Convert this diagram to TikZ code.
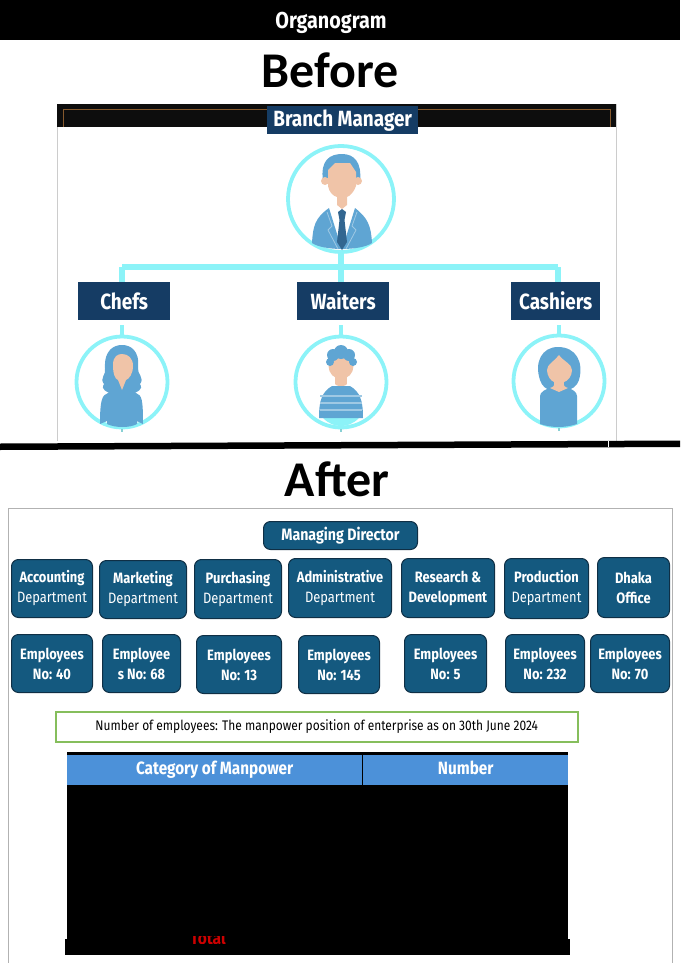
\documentclass[tikz,border=0pt]{standalone}
\usepackage{fontspec}
\setmainfont[FakeStretch=0.86]{Fira Sans}
\newfontfamily\headfont{Carlito}
\usepackage{xcolor}
\usetikzlibrary{positioning}
\definecolor{navybox}{HTML}{153C64}
\definecolor{tealbox}{HTML}{14597F}
\definecolor{tealedge}{HTML}{0F2F45}
\definecolor{ringcol}{HTML}{8CF3F8}
\definecolor{suit}{HTML}{5FA5D3}
\definecolor{skin}{HTML}{F0C4A8}
\definecolor{headblue}{HTML}{4C91D9}
\definecolor{notegreen}{HTML}{86BE5C}
\tikzset{
	titlebox/.style={fill=navybox,text=white,font=\fontsize{22}{24}\selectfont\bfseries,inner sep=0pt,anchor=north west},
	deptbox/.style={fill=tealbox,draw=tealedge,line width=1pt,rounded corners=7pt,text=white,align=center,inner sep=0pt,anchor=north west,font=\fontsize{15}{20}\selectfont},
	headcell/.style={fill=headblue,text=white,font=\fontsize{17.8}{20}\selectfont\bfseries,minimum height=30pt,inner sep=0pt,anchor=north west,text height=12pt,text depth=3pt},
	bigtitle/.style={font=\headfont\fontsize{50}{52}\selectfont\bfseries},
	ring/.style={circle,draw=ringcol,line width=3.8pt,inner sep=0pt,fill=none},
	busline/.style={draw=ringcol,line width=5.2pt},
	stub/.style={draw=ringcol,line width=4pt},
	tip/.style={draw=ringcol!70!gray,line width=2.5pt},
}
\newcommand{\boxat}[6]{% name, x0, y0, x1, y1, text
	\pgfmathsetmacro{\bw}{#4-#2}\pgfmathsetmacro{\bh}{#5-#3}
	\node[deptbox,minimum width=\bw pt,minimum height=\bh pt] (#1) at (#2,#3) {#6};
}
\begin{document}
\begin{tikzpicture}[x=1pt,y=-1pt]
		\useasboundingbox (0,0) rectangle (680,963);
		% top band and headings
		\fill[black] (0,0) rectangle (680,40);
		\node[text=white,font=\fontsize{23}{25}\selectfont\bfseries] (organogram) at (331,23) {Organogram};
		\node[bigtitle] (before) at (330,70) {Before};
		\node[bigtitle] (after) at (337,479) {After};
		% before panel
		\draw[gray!40,line width=.8pt] (57,104) -- (57,441) (616,104) -- (616,441);
		\fill[black!95] (57,104) rectangle (616,127);
		\draw[brown!70!black,line width=.6pt] (63,127) -- (63,109) -- (610,109) -- (610,127);
		\node[titlebox,minimum width=151pt,minimum height=28pt] (manager) at (267,106) {Branch Manager};
		\node[ring,minimum size=106pt] (managerring) at (341,199) {};
		\node[titlebox,minimum width=92pt,minimum height=38pt] (chefs) at (78,282) {Chefs};
		\node[titlebox,minimum width=92pt,minimum height=38pt] (waiters) at (297,282) {Waiters};
		\node[titlebox,minimum width=89pt,minimum height=38pt] (cashiers) at (511,282) {Cashiers};
		\node[ring,minimum size=91pt] (chefring) at (122,382) {};
		\node[ring,minimum size=91pt] (waiterring) at (341,382) {};
		\node[ring,minimum size=91pt] (cashierring) at (559,381) {};
		\coordinate (busl) at (122,267);
		\coordinate (busm) at (341,267);
		\coordinate (busr) at (558,267);
		\path[busline]
		(managerring) -- (busm)
		(busl) -- (busr)
		(busm) -- (busm |- waiters.north)
		(busl) -- (busl |- chefs.north)
		(busr) -- (busr |- cashiers.north);
		\path[stub]
		(chefs.south -| chefring) ++(0,5) -- (chefring.north)
		(waiters.south -| waiterring) ++(0,5) -- (waiterring.north)
		(cashiers.south -| cashierring) ++(0,5) -- (cashierring.north);
		\path[tip]
		(chefring.south) -- ++(0,3)
		(waiterring.south) -- ++(0,3)
		(cashierring.south) -- ++(0,3);
		% branch manager figure
		\fill[suit] (323,181) .. controls (320,160) and (330,154) .. (342,154) .. controls (354,154) and (362,162) .. (360,181) -- cycle;
		\fill[skin] (325,181) circle (4) (358,181) circle (4);
		\fill[skin] (328,170) -- (335,163) -- (350,163) -- (356,172) -- (356,186) .. controls (354,192) and (350,196) .. (347,197) -- (347,205) -- (342,209) -- (337,205) -- (337,197) .. controls (333,196) and (329,192) .. (328,186) -- cycle;
		\fill[suit] (312,243) .. controls (313,226) and (315,218) .. (329,208) -- (342,250) -- (355,208) .. controls (368,218) and (371,226) .. (372,243) .. controls (360,251) and (324,251) .. (312,243) -- cycle;
		\fill[navybox!60!suit] (338,212) -- (342,209) -- (346,212) -- (344.5,220) -- (347,242) -- (342,250) -- (337,242) -- (339.5,220) -- cycle;
		\draw[white!40!suit,line width=.8pt] (327,212) -- (332,226) -- (328,230) -- (338,249) (357,212) -- (352,226) -- (356,230) -- (346,249);
		% chef figure
		\fill[suit] (104,384) .. controls (99,378) and (107,374) .. (105,368) .. controls (104,350) and (114,345) .. (122,345) .. controls (130,345) and (140,350) .. (138,368) .. controls (137,374) and (145,378) .. (140,384) .. controls (144,390) and (136,392) .. (133,394) -- (111,394) .. controls (108,392) and (100,390) .. (104,384) -- cycle;
		\fill[suit] (108,393) -- (136,393) .. controls (142,395) and (143,400) .. (143,424) -- (137,421) -- (137,424) .. controls (130,428) and (115,428) .. (107,424) -- (107,421) -- (100,424) .. controls (100,400) and (102,395) .. (108,393) -- cycle;
		\fill[skin] (113,365) .. controls (113,356) and (118,354) .. (122,354) .. controls (128,354) and (133,358) .. (133,366) .. controls (133,374) and (129,379) .. (126,380) -- (122,390) -- (118,380) .. controls (115,379) and (113,374) .. (113,365) -- cycle;
		% waiter figure
		\fill[ringcol] (323,418) -- (359,418) .. controls (353,424) and (347,426) .. (341,426) .. controls (335,426) and (329,424) .. (323,418) -- cycle;
		\fill[suit] (319,418) .. controls (319,400) and (322,392) .. (332,386) -- (350,386) .. controls (360,392) and (363,400) .. (363,418) -- cycle;
		\foreach \y in {395,402,409}
		\fill[suit!60!white] (320,\y) rectangle (362,\y+2);
		\fill[skin] (335,372) rectangle (347,384);
		\fill[skin] (341,384) ellipse (6 and 2);
		\fill[skin] (341,366) ellipse (12.5 and 13);
		\fill[suit] (330,362) circle (4) (333,355) circle (6) (341,352) circle (7) (349,355) circle (6) (353,362) circle (4);
		% cashier figure
		\fill[suit] (540,380) .. controls (534,362) and (542,347) .. (558,347) .. controls (576,347) and (584,362) .. (579,380) .. controls (577,386) and (572,390) .. (566,390) -- (552,390) .. controls (546,390) and (542,386) .. (540,380) -- cycle;
		\fill[suit] (540,424) -- (540,396) .. controls (540,392) and (546,389) .. (550,388) -- (568,388) .. controls (572,389) and (577,392) .. (577,396) -- (577,424) .. controls (565,428) and (552,428) .. (540,424) -- cycle;
		\fill[skin] (559,355) .. controls (555,361) and (547,364) .. (547,370) .. controls (547,376) and (551,381) .. (554,382) .. controls (555,386) and (553,387) .. (550,388) -- (559,392) -- (568,388) .. controls (565,387) and (563,386) .. (564,382) .. controls (568,381) and (572,376) .. (572,370) .. controls (572,364) and (563,361) .. (559,355) -- cycle;
		% divider
		\fill[black] (0,443.5) -- (680,440.5) -- (680,447) -- (0,450) -- cycle;
		\draw[white,line width=.5pt] (608,441) -- (608,447);
		% after panel
		\draw[gray!60,line width=.8pt] (8,963) -- (8,508) -- (672.5,508) -- (672.5,963);
		\boxat{director}{263}{521}{417}{549}{\fontsize{16.5}{20}\selectfont\bfseries Managing Director}
		\boxat{accounting}{11}{559}{92}{617}{\textbf{Accounting}\\Department}
		\boxat{marketing}{99}{560}{186}{618}{\textbf{Marketing}\\Department}
		\boxat{purchasing}{194}{559}{281}{618}{\textbf{Purchasing}\\Department}
		\boxat{administrative}{288}{558}{391}{617}{\textbf{Administrative}\\Department}
		\boxat{research}{401}{558}{494}{617}{\textbf{Research \&}\\\textbf{Development}}
		\boxat{production}{504}{558}{588}{618}{\textbf{Production}\\Department}
		\boxat{dhaka}{597}{557}{669}{617}{\textbf{Dhaka}\\\textbf{Office}}
		\boxat{accountingno}{11}{634}{92}{692}{\textbf{Employees}\\\textbf{No: 40}}
		\boxat{marketingno}{102}{634}{180}{692}{\textbf{Employee}\\\textbf{s No: 68}}
		\boxat{purchasingno}{196}{635}{281}{693}{\textbf{Employees}\\\textbf{No: 13}}
		\boxat{administrativeno}{298}{635}{379}{693}{\textbf{Employees}\\\textbf{No: 145}}
		\boxat{researchno}{404}{634}{486}{692}{\textbf{Employees}\\\textbf{No: 5}}
		\boxat{productionno}{505}{634}{584}{692}{\textbf{Employees}\\\textbf{No: 232}}
		\boxat{dhakano}{590}{634}{669}{692}{\textbf{Employees}\\\textbf{No: 70}}
		\node[draw=notegreen,line width=1.5pt,fill=white,minimum width=522pt,minimum height=30pt,inner sep=0pt,anchor=north west,font=\fontsize{13.9}{18}\selectfont] (note) at (55,711) {Number of employees: The manpower position of enterprise as on 30th June 2024};
		% table
		\fill[black] (67,752) rectangle (568,940);
		\fill[black] (65,939) rectangle (570,955);
		\node[headcell,minimum width=295pt] (category) at (67,755) {Category of Manpower};
		\node[headcell,minimum width=205pt] (number) at (363,755) {Number};
		\node[text=red!80!black,font=\fontsize{18}{18}\selectfont\bfseries,inner sep=0pt] (total) at (208,938) {Total};
		\fill[black] (185,925) rectangle (232,935.5);
		\fill[black] (185,943.5) rectangle (232,950);
		\end{tikzpicture}
\end{document}
